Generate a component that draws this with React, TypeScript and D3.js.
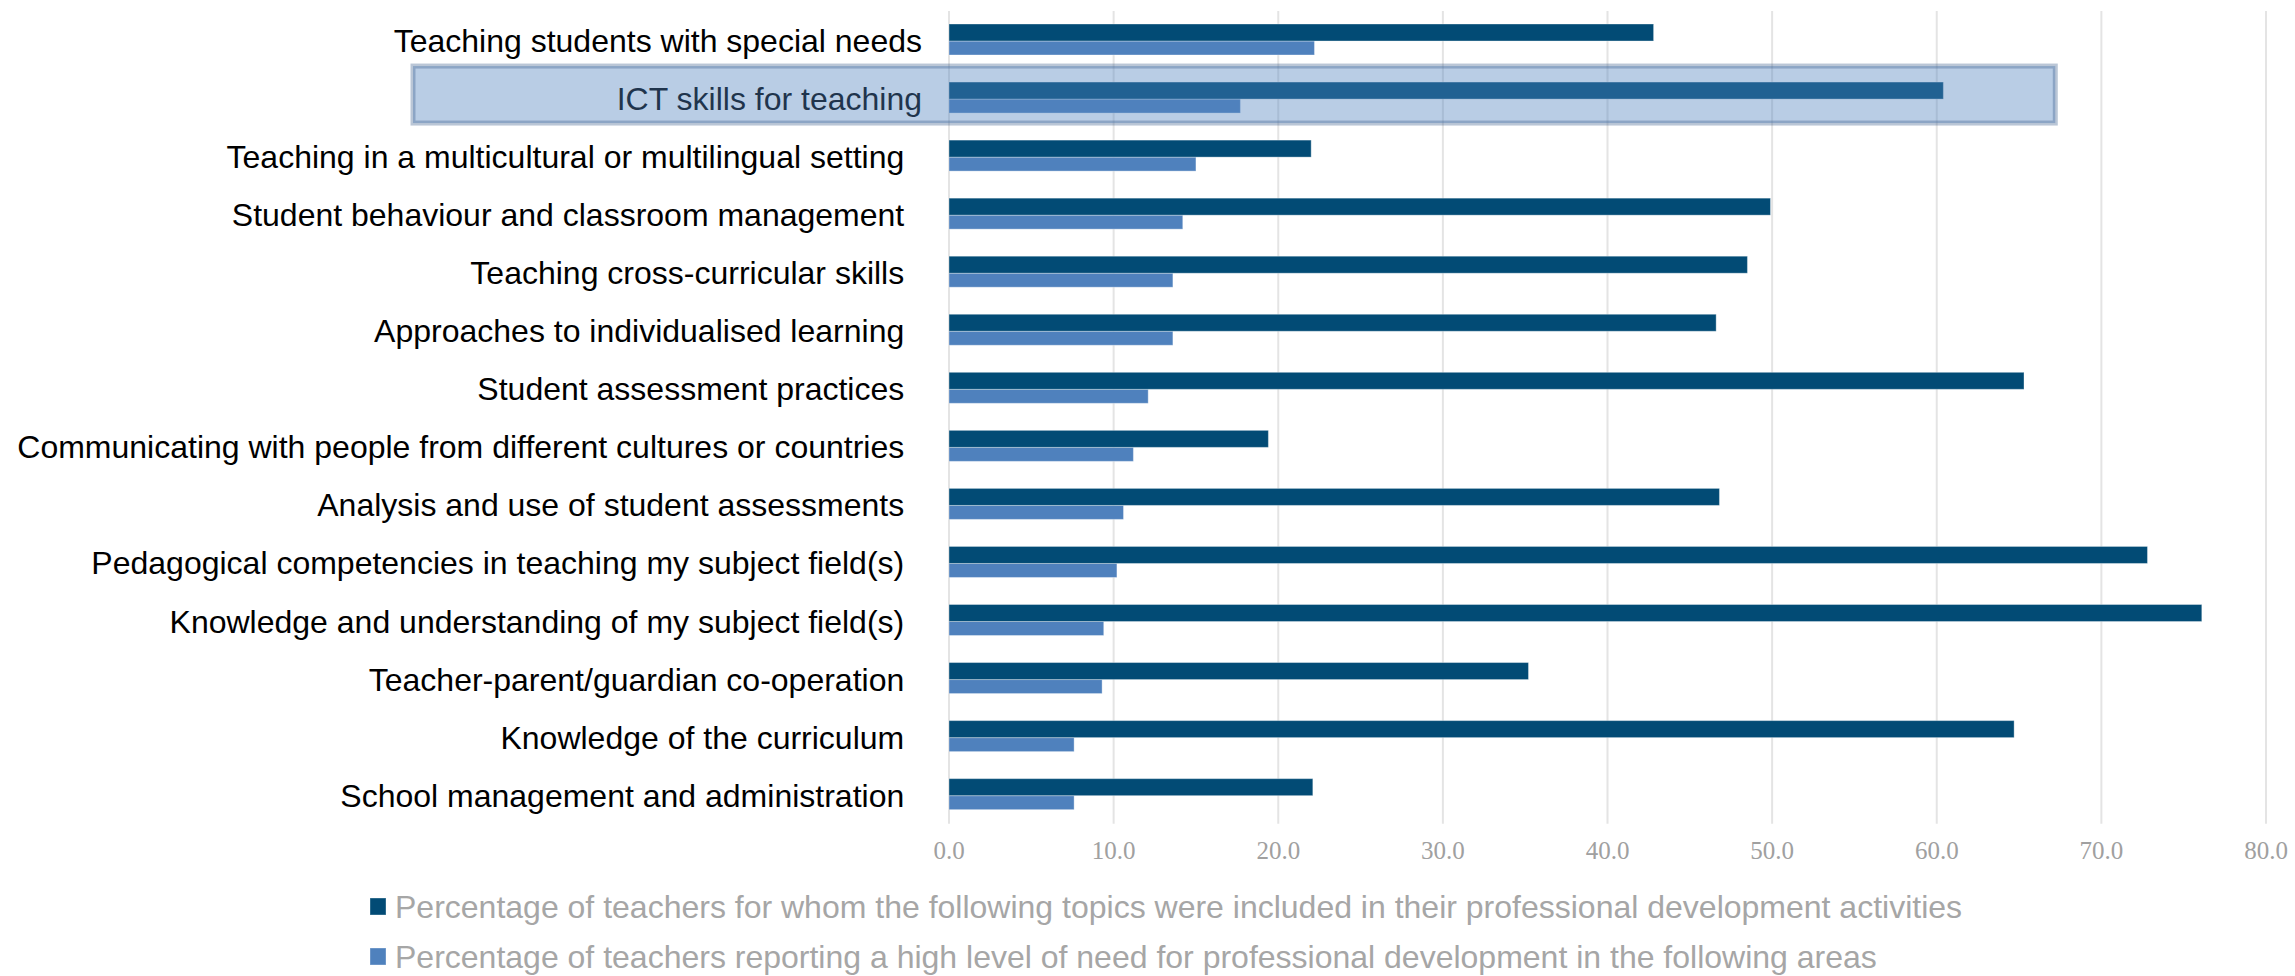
import React from "react";
import * as d3 from "d3";

const categories = [
  "Teaching students with special needs",
  "ICT skills for teaching",
  "Teaching in a multicultural or multilingual setting  ",
  "Student behaviour and classroom management  ",
  "Teaching cross-curricular skills  ",
  "Approaches to individualised learning  ",
  "Student assessment practices  ",
  "Communicating with people from different cultures or countries  ",
  "Analysis and use of student assessments  ",
  "Pedagogical competencies in teaching my subject field(s)  ",
  "Knowledge and understanding of my subject field(s)  ",
  "Teacher-parent/guardian co-operation  ",
  "Knowledge of the curriculum  ",
  "School management and administration  ",
];

const includedValues = [42.8, 60.4, 22.0, 49.9, 48.5, 46.6, 65.3, 19.4, 46.8, 72.8, 76.1, 35.2, 64.7, 22.1];
const needValues = [22.2, 17.7, 15.0, 14.2, 13.6, 13.6, 12.1, 11.2, 10.6, 10.2, 9.4, 9.3, 7.6, 7.6];

const tickValues = [0, 10, 20, 30, 40, 50, 60, 70, 80];

const seriesNames = [
  "Percentage of teachers for whom the following topics were included in their professional development activities",
  "Percentage of teachers reporting a high level of need for professional development in the following areas",
];
const seriesColors = ["#024B75", "#4F81BD"];

const highlighted = "ICT skills for teaching";
const highlightEnd = 67.2;

const W = 2295;
const H = 976;

export default function App() {
  const x = d3.scaleLinear().domain([0, 80]).range([949, 2266]);
  const y = d3.scaleBand<string>().domain(categories).range([11, 823.7]).paddingInner(0);
  const bw = y.bandwidth();
  const darkOff = bw * 0.224;
  const darkH = bw * 0.293;
  const lightOff = darkOff + darkH;
  const lightH = bw * 0.241;
  const labelX = 922;
  const hlBand = y(highlighted) as number;

  return (
    <svg
      width={W}
      height={H}
      style={{ position: "absolute", left: 0, top: 0, background: "#ffffff" }}
      xmlns="http://www.w3.org/2000/svg"
    >
      {/* gridlines */}
      {tickValues.map((t) => (
        <line
          key={"g" + t}
          x1={x(t)}
          x2={x(t)}
          y1={11}
          y2={823.7}
          stroke="#E4E4E4"
          strokeWidth={2}
        />
      ))}
      {/* bars */}
      {categories.map((c, i) => {
        const by = y(c) as number;
        return (
          <g key={"b" + i}>
            <rect
              x={x(0)}
              y={by + lightOff}
              width={x(needValues[i]) - x(0)}
              height={lightH}
              fill={seriesColors[1]}
              stroke="#ffffff"
              strokeOpacity={0.35}
              strokeWidth={1}
            />
            <rect
              x={x(0)}
              y={by + darkOff}
              width={x(includedValues[i]) - x(0)}
              height={darkH}
              fill={seriesColors[0]}
              stroke="#ffffff"
              strokeOpacity={0.35}
              strokeWidth={1}
            />
          </g>
        );
      })}
      {/* category labels */}
      {categories.map((c, i) => (
        <text
          key={"l" + i}
          x={labelX}
          y={(y(c) as number) + bw / 2 + 1}
          textAnchor="end"
          dominantBaseline="central"
          fontFamily="'Liberation Sans', Arial, sans-serif"
          fontSize={32}
          fill="#000000"
          style={{ whiteSpace: "pre" }}
        >
          {c}
        </text>
      ))}
      {/* tick labels */}
      {tickValues.map((t) => (
        <text
          key={"t" + t}
          x={x(t)}
          y={850}
          textAnchor="middle"
          dominantBaseline="central"
          fontFamily="'Liberation Serif', 'Times New Roman', serif"
          fontSize={25}
          fill="#A0A0A0"
        >
          {d3.format(".1f")(t)}
        </text>
      ))}
      {/* highlight box */}
      <rect
        x={413}
        y={hlBand - 3}
        width={x(highlightEnd) - 413}
        height={57}
        fill="#4F81BD"
        fillOpacity={0.4}
        stroke="#385D8A"
        strokeOpacity={0.35}
        strokeWidth={5}
      />
      {/* legend */}
      {seriesNames.map((s, i) => (
        <g key={"lg" + i} transform={`translate(370, ${898 + i * 50})`}>
          <rect x={0} y={0} width={16} height={17} fill={seriesColors[i]} stroke="#ffffff" strokeOpacity={0.35} />
          <text
            x={25}
            y={9}
            dominantBaseline="central"
            fontFamily="'Liberation Sans', Arial, sans-serif"
            fontSize={32}
            fill="#A6A6A6"
          >
            {s}
          </text>
        </g>
      ))}
    </svg>
  );
}
